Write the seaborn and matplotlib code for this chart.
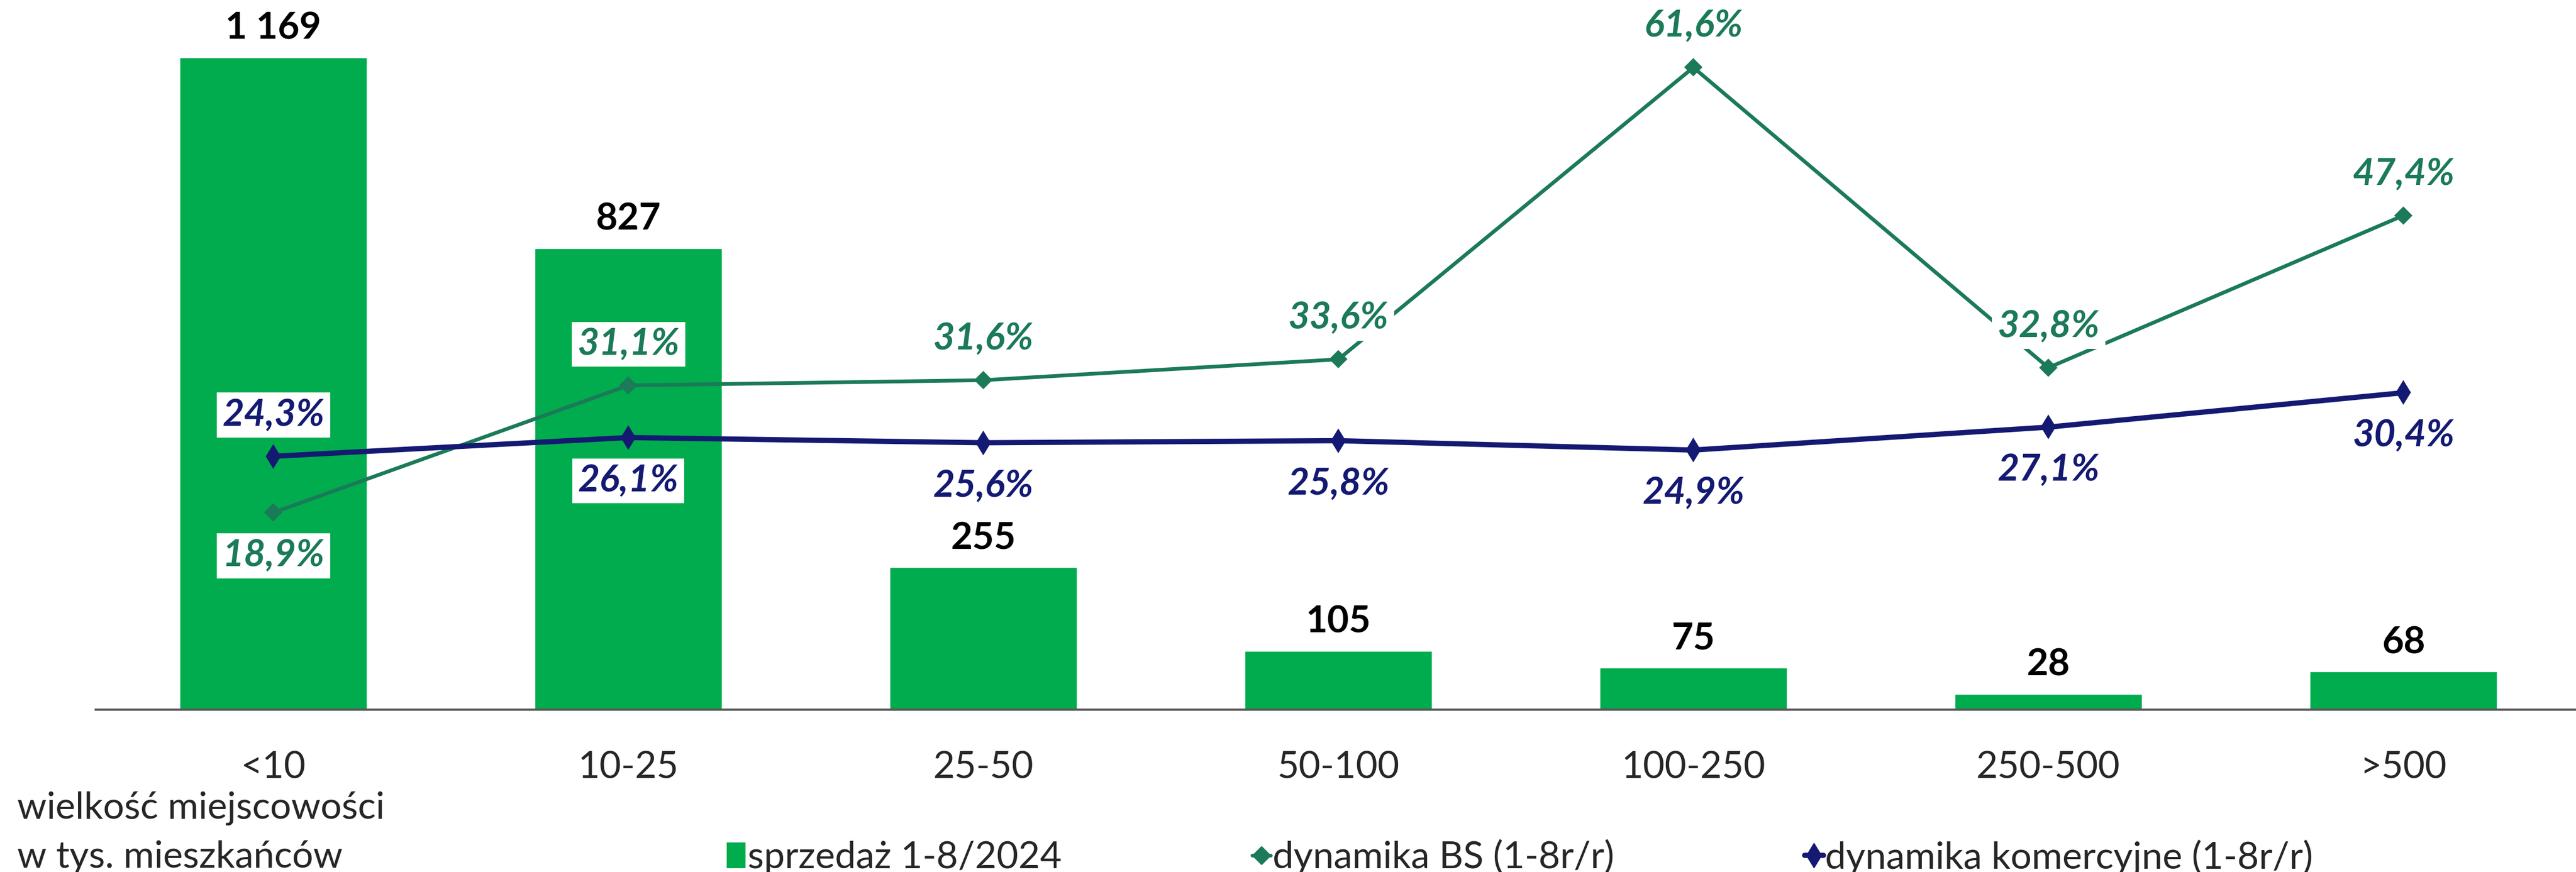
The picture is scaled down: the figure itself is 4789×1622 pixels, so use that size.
import numpy as np
import pandas as pd
import matplotlib
matplotlib.use('Agg')
import matplotlib.pyplot as plt
import seaborn as sns
from matplotlib.lines import Line2D
from matplotlib.patches import Patch

# Data
categories = ['<10', '10-25', '25-50', '50-100', '100-250', '250-500', '>500']
sprzedaz = [1169, 827, 255, 105, 75, 28, 68]
dyn_bs = [18.9, 31.1, 31.6, 33.6, 61.6, 32.8, 47.4]
dyn_kom = [24.3, 26.1, 25.6, 25.8, 24.9, 27.1, 30.4]
bs_above = [False, True, True, True, True, True, True]
kom_above = [True, False, False, False, False, False, False]

bar_color = '#00ac4e'
bs_color = '#1b7a57'
kom_color = '#141a72'

sns.set_style('white')
plt.rcParams['font.family'] = ['Lato', 'DejaVu Sans']

df = pd.DataFrame({'kat': categories, 'sprzedaz': sprzedaz,
                   'bs': dyn_bs, 'kom': dyn_kom})
df['pos'] = np.arange(len(df))

fig = plt.figure(figsize=(47.89, 16.22), dpi=100)
ax = fig.add_axes([0.0372, 0.1862, 0.9647, 0.8138])

sns.barplot(data=df, x='kat', y='sprzedaz', color=bar_color, width=0.527,
            saturation=1, ax=ax)
ax.set_xlim(-0.5, 6.5)
ax.set_ylim(0, 1272)
ax.set_yticks([])
ax.set_xlabel('')
ax.set_ylabel('')
for s in ['left', 'right', 'top']:
    ax.spines[s].set_visible(False)
ax.spines['bottom'].set_color('#555555')
ax.spines['bottom'].set_linewidth(3)
ax.tick_params(axis='x', which='major', length=0, labelsize=50, pad=55)
ax.set_xticks(np.arange(-0.5, 7, 1), minor=True)
ax.tick_params(axis='x', which='minor', length=30, width=2, color='#555555', direction='out')

for i, v in enumerate(sprzedaz):
    ax.annotate(f'{v:,}'.replace(',', ' '), (i, v), xytext=(0, 16), textcoords='offset points',
                ha='center', va='bottom', fontsize=50, fontweight='bold', color='black')

# dynamika na drugiej osi
ax2 = ax.twinx()
ax2.set_ylim(0, 68.07)
sns.lineplot(data=df, x='pos', y='bs', color=bs_color, linewidth=5, marker='D',
             markersize=17, markeredgewidth=0, ax=ax2)
sns.lineplot(data=df, x='pos', y='kom', color=kom_color, linewidth=7, marker='d',
             markersize=23, markeredgewidth=0, ax=ax2)
ax2.set_xlim(-0.5, 6.5)
ax2.set_yticks([])
ax2.set_ylabel('')
ax2.set_xlabel('')
for s in ['left', 'right', 'top', 'bottom']:
    ax2.spines[s].set_visible(False)

box = dict(boxstyle='square,pad=0.15', fc='white', ec='none')
for i in range(len(categories)):
    for vals, above, col in [(dyn_bs, bs_above, bs_color), (dyn_kom, kom_above, kom_color)]:
        off = 55 if above[i] else -58
        ax2.annotate(f'{vals[i]:.1f}%'.replace('.', ','), (i, vals[i]), xytext=(0, off),
                     textcoords='offset points', ha='center', va='center', fontsize=50,
                     fontweight='bold', fontstyle='italic', color=col, bbox=box)

fig.text(0.0067, 0.073, 'wielkość miejscowości', fontsize=50, va='center', ha='left')
fig.text(0.0067, 0.017, 'w tys. mieszkańców', fontsize=50, va='center', ha='left')

handles = [Patch(facecolor=bar_color, edgecolor='none'),
           Line2D([], [], color=bs_color, lw=5, marker='D', markersize=17),
           Line2D([], [], color=kom_color, lw=7, marker='d', markersize=23)]
labels = ['sprzedaż 1-8/2024', 'dynamika BS (1-8r/r)', 'dynamika komercyjne (1-8r/r)']
fig.legend(handles, labels, ncol=3, loc='center left', bbox_to_anchor=(0.2822, 0.017),
           frameon=False, fontsize=50, handlelength=0.5, handleheight=0.7,
           handletextpad=0.05, columnspacing=5.1, borderpad=0, borderaxespad=0)

fig.savefig('out.png', dpi=100)
